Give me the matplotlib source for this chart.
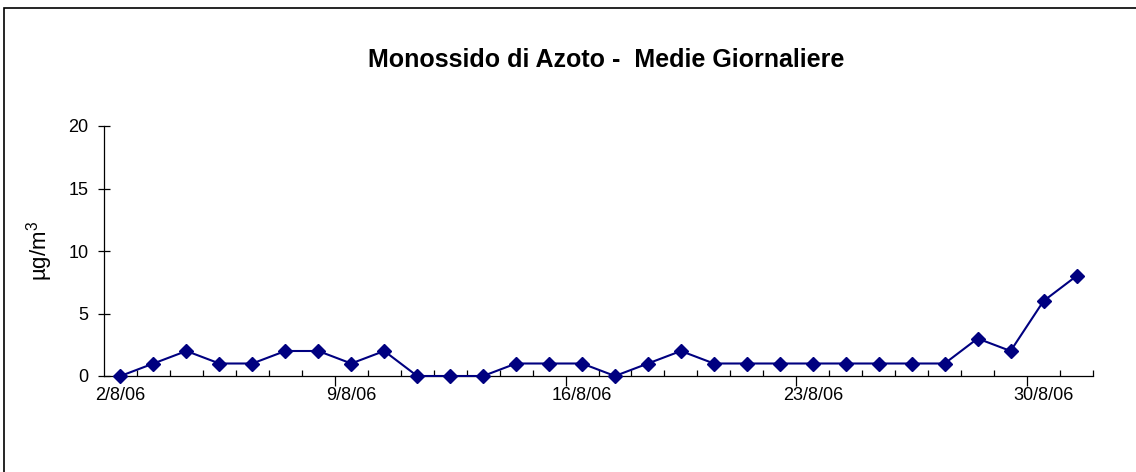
import matplotlib
matplotlib.use("Agg")
from matplotlib import pyplot as plt
from matplotlib.patches import Rectangle

days = list(range(2, 32))
labels = ["%d/8/06" % d for d in days]
values = [0, 1, 2, 1, 1, 2, 2, 1, 2, 0,
          0, 0, 1, 1, 1, 0, 1, 2, 1, 1,
          1, 1, 1, 1, 1, 1, 3, 2, 6, 8]

plt.rcParams['font.family'] = ['Liberation Sans', 'DejaVu Sans']
plt.rcParams['mathtext.fontset'] = 'custom'
plt.rcParams['mathtext.rm'] = 'Liberation Sans'
plt.rcParams['mathtext.default'] = 'regular'

fig = plt.figure(figsize=(11.36, 4.72), dpi=100)
# outer frame of the Excel chart area (only left/top edges fall inside the image)
fig.patches.append(Rectangle((4 / 1136, -1), 2, 2 - 8 / 472, transform=fig.transFigure,
                             fill=False, edgecolor='black', linewidth=1.2))

ax = fig.add_axes([104 / 1136, 1 - 376 / 472, (1093 - 104) / 1136, (376 - 126) / 472])
x = list(range(len(values)))
ax.plot(x, values, color='#000080', linewidth=1.5, marker='D', markersize=7.5,
        clip_on=False, zorder=3)

ax.set_xlim(-0.5, len(values) - 0.5)
ax.set_ylim(0, 20)
ax.spines['top'].set_visible(False)
ax.spines['right'].set_visible(False)
ax.spines['left'].set_linewidth(0.9)
ax.spines['bottom'].set_linewidth(0.9)

ax.set_yticks([0, 5, 10, 15, 20])
ax.tick_params(axis='y', direction='inout', length=8, width=0.9, labelsize=13, pad=7)

# category boundaries: minor ticks inside, major ticks every 7 days outside
ax.set_xticks([i + 0.5 for i in range(len(values))], minor=True)
ax.set_xticks([6.5, 13.5, 20.5, 27.5])
ax.set_xticklabels([])
ax.tick_params(axis='x', which='minor', direction='in', length=4, width=0.9)
ax.tick_params(axis='x', which='major', direction='out', length=7, width=0.9)
for i in range(0, len(values), 7):
    ax.text(i, -0.9, labels[i], ha='center', va='top', fontsize=13,
            transform=ax.transData)

ax.set_ylabel(r"µg/m$^3$", fontsize=16, labelpad=10)
fig.text(606 / 1136, 1 - 60 / 472, "Monossido di Azoto -  Medie Giornaliere",
         ha='center', va='center', fontsize=18, fontweight='bold')

fig.savefig("out.png", dpi=100)
